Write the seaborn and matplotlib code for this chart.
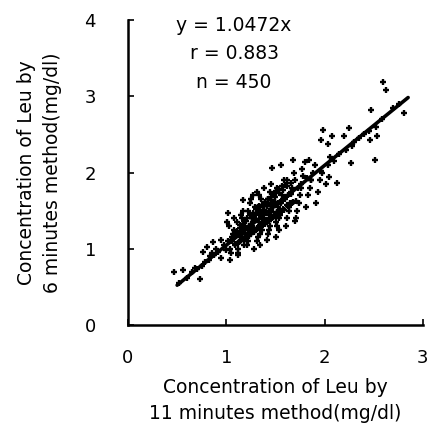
import matplotlib
matplotlib.use("Agg")
import matplotlib.pyplot as plt
import seaborn as sns
import pandas as pd

# ---- data ----
x_vals = [
    0.47, 0.56, 0.73, 0.52, 0.60, 0.65, 0.70, 0.76, 0.80, 0.86, 0.95, 1.04, 1.12, 0.82, 0.88, 0.90,
    0.78, 0.98, 0.95, 0.92, 1.00, 1.02, 0.85, 0.75, 0.68, 0.83,
    1.02, 1.04, 1.05, 1.07, 1.08, 1.03, 1.06, 1.09, 1.01, 1.08, 1.05,
    1.12, 1.14, 1.15, 1.17, 1.13, 1.18, 1.11, 1.16, 1.17, 1.19, 1.12, 1.15, 1.18,
    1.21, 1.22, 1.24, 1.25, 1.23, 1.27, 1.28, 1.26, 1.22, 1.29, 1.24, 1.27, 1.21, 1.25, 1.28,
    1.31, 1.32, 1.34, 1.35, 1.33, 1.36, 1.38, 1.37, 1.32, 1.39, 1.35, 1.33, 1.38, 1.36, 1.31, 1.34,
    1.41, 1.42, 1.44, 1.45, 1.43, 1.46, 1.48, 1.47, 1.42, 1.49, 1.44, 1.46, 1.41, 1.47, 1.43,
    1.51, 1.52, 1.54, 1.55, 1.53, 1.56, 1.58, 1.57, 1.52, 1.59, 1.55, 1.51, 1.56, 1.54,
    1.61, 1.62, 1.64, 1.65, 1.63, 1.66, 1.68, 1.67, 1.62, 1.69, 1.70, 1.64,
    1.71, 1.72, 1.74, 1.75, 1.73, 1.76, 1.78, 1.77, 1.80,
    1.81, 1.83, 1.85, 1.86, 1.88, 1.84, 1.90, 1.82,
    1.91, 1.93, 1.95, 1.96, 1.97, 1.98, 2.03, 2.05,
    2.01, 2.04, 2.06, 2.08, 2.13, 2.10, 2.15,
    2.20, 2.27, 2.28, 2.30, 2.22, 2.25, 2.35,
    2.40, 2.46, 2.51, 2.52, 2.53, 2.45, 2.58,
    2.59, 2.63, 2.47, 2.81, 2.70, 2.76,
    1.10, 1.20, 1.30, 1.40, 1.50, 1.60, 1.15, 1.25, 1.35, 1.45, 1.55, 1.65,
    1.12, 1.22, 1.32, 1.42, 1.52, 1.62, 1.18, 1.28, 1.38, 1.48, 1.58, 1.68,
    1.06, 1.16, 1.26, 1.36, 1.46, 1.56, 1.66, 1.76, 1.86, 1.96,
    1.08, 1.11, 1.14, 1.17, 1.20, 1.23, 1.26, 1.29, 1.32, 1.35, 1.38, 1.41, 1.44, 1.47, 1.50, 1.53,
    1.09, 1.13, 1.16, 1.19, 1.22, 1.25, 1.28, 1.31, 1.34, 1.37, 1.40, 1.43, 1.46, 1.49, 1.52, 1.55,
    1.14, 1.18, 1.21, 1.24, 1.27, 1.30, 1.33, 1.36, 1.39, 1.42, 1.45, 1.48, 1.51, 1.54, 1.57, 1.60,
    1.19, 1.23, 1.27, 1.31, 1.35, 1.39, 1.43, 1.47, 1.51, 1.55, 1.59, 1.63, 1.67, 1.71,
    1.26, 1.30, 1.34, 1.38, 1.42, 1.46, 1.50, 1.54, 1.58, 1.62, 1.66, 1.70,
]
y_vals = [
    0.70, 0.72, 0.60, 0.55, 0.62, 0.70, 0.74, 0.96, 1.03, 1.09, 0.88, 0.85, 0.92, 0.86, 0.92, 1.00,
    0.83, 1.05, 1.12, 0.96, 0.98, 1.10, 0.95, 0.78, 0.75, 0.90,
    1.47, 1.00, 1.10, 1.20, 1.25, 1.30, 1.15, 1.05, 1.35, 1.40, 0.95,
    1.00, 1.10, 1.15, 1.64, 1.20, 1.30, 1.35, 1.40, 1.50, 1.25, 0.95, 1.45, 1.05,
    1.05, 1.10, 1.20, 1.25, 1.30, 1.35, 1.40, 1.45, 1.50, 1.55, 1.60, 1.70, 1.15, 1.65, 1.00,
    1.10, 1.15, 1.20, 1.30, 1.35, 1.40, 1.45, 1.50, 1.55, 1.60, 1.65, 1.70, 1.80, 1.25, 1.75, 1.05,
    1.12, 1.20, 1.30, 1.40, 1.45, 1.50, 1.55, 1.60, 1.65, 1.70, 1.75, 1.85, 1.35, 2.06, 1.25,
    1.16, 1.30, 1.40, 1.50, 1.55, 1.60, 1.65, 1.70, 1.80, 1.90, 1.45, 1.35, 2.10, 1.25,
    1.30, 1.40, 1.50, 1.60, 1.70, 1.75, 2.17, 1.80, 1.90, 2.00, 1.36, 1.55,
    1.40, 1.50, 1.60, 1.70, 1.80, 1.85, 1.95, 2.05, 2.14,
    1.55, 1.70, 1.80, 1.90, 2.00, 2.17, 2.10, 1.93,
    1.60, 1.75, 1.90, 2.43, 2.00, 2.56, 2.38, 1.94,
    1.85, 2.10, 2.20, 2.48, 1.86, 2.15, 2.25,
    2.48, 2.12, 2.35, 2.40, 2.30, 2.59, 2.45,
    2.50, 2.43, 2.17, 2.60, 2.48, 2.55, 2.70,
    3.19, 3.08, 2.82, 2.78, 2.85, 2.90,
    1.20, 1.28, 1.38, 1.48, 1.58, 1.66, 1.22, 1.32, 1.42, 1.52, 1.62, 1.72,
    1.08, 1.18, 1.28, 1.38, 1.48, 1.58, 1.12, 1.22, 1.32, 1.42, 1.52, 1.62,
    1.12, 1.20, 1.30, 1.42, 1.52, 1.62, 1.72, 1.80, 1.90, 2.02,
    1.18, 1.24, 1.27, 1.33, 1.36, 1.29, 1.41, 1.38, 1.47, 1.44, 1.51, 1.56, 1.49, 1.58, 1.62, 1.60,
    1.06, 1.09, 1.14, 1.16, 1.21, 1.19, 1.25, 1.27, 1.31, 1.34, 1.38, 1.36, 1.42, 1.45, 1.48, 1.50,
    1.31, 1.36, 1.40, 1.44, 1.47, 1.52, 1.56, 1.58, 1.62, 1.66, 1.68, 1.72, 1.76, 1.79, 1.82, 1.84,
    1.14, 1.17, 1.22, 1.26, 1.29, 1.33, 1.37, 1.40, 1.43, 1.47, 1.51, 1.56, 1.60, 1.63,
    1.40, 1.46, 1.51, 1.56, 1.60, 1.64, 1.68, 1.73, 1.77, 1.82, 1.86, 1.90,
]

slope = 1.0472
r_value = 0.883
n_value = 450
line_x = [0.50, 2.85]

x_ticks = [0, 1, 2, 3]
y_ticks = [0, 1, 2, 3, 4]

df = pd.DataFrame({"x": x_vals, "y": y_vals})
line_df = pd.DataFrame({"x": line_x, "y": [slope * v for v in line_x]})

sns.set_theme(style="white")
plt.rcParams["font.family"] = ["DejaVu Sans"]

fig = plt.figure(figsize=(4.28, 4.37), dpi=100)
ax = fig.add_axes([0.299, 0.256, 0.689, 0.698])

sns.scatterplot(data=df, x="x", y="y", ax=ax, marker="+", s=18,
                color="black", linewidth=1.7, legend=False)
sns.lineplot(data=line_df, x="x", y="y", ax=ax, color="black", linewidth=2.6)

ax.set_xlim(0, 3)
ax.set_ylim(0, 4)
ax.set_xticks(x_ticks)
ax.set_yticks(y_ticks)
ax.tick_params(axis="both", bottom=True, left=True, direction="in", length=4,
               width=1.2, colors="black", labelsize=13)
ax.tick_params(axis="x", pad=17)
ax.tick_params(axis="y", pad=23)
for s in ["top", "right"]:
    ax.spines[s].set_visible(False)
for s in ["left", "bottom"]:
    ax.spines[s].set_color("black")
    ax.spines[s].set_linewidth(1.8)

ax.set_xlabel("Concentration of Leu by\n11 minutes method(mg/dl)",
              fontsize=13.5, color="black", labelpad=8, linespacing=1.5)
ax.set_ylabel("Concentration of Leu by\n6 minutes method(mg/dl)",
              fontsize=13.5, color="black", labelpad=16, linespacing=1.5)

ax.text(1.08, 3.93, f"y = {slope}x", fontsize=13.5, ha="center", va="center", color="black")
ax.text(1.08, 3.56, f"r = {r_value}", fontsize=13.5, ha="center", va="center", color="black")
ax.text(1.08, 3.18, f"n = {n_value}", fontsize=13.5, ha="center", va="center", color="black")

fig.savefig("out.png", dpi=100, facecolor="white")
